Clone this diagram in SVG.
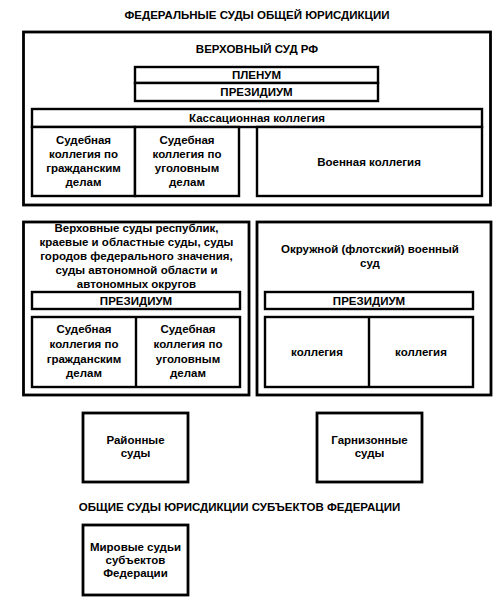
<svg xmlns="http://www.w3.org/2000/svg" width="495" height="600" viewBox="0 0 495 600">
<style>
rect{fill:#fff;stroke:#000;stroke-width:2.4}
.o{stroke-width:2.8}
line{stroke:#000;stroke-width:2.4}
text{font-family:"Liberation Sans",Arial,sans-serif;font-weight:bold;font-size:11.5px;text-anchor:middle;fill:#000}
</style>
<rect x="0" y="0" width="495" height="600" style="stroke:none"/>
<text x="257" y="19">ФЕДЕРАЛЬНЫЕ СУДЫ ОБЩЕЙ ЮРИСДИКЦИИ</text>
<g id="supreme">
<rect class="o" x="23.5" y="32" width="467" height="173"/>
<text x="257" y="53">ВЕРХОВНЫЙ СУД РФ</text>
</g>
<g id="plenum"><rect x="135" y="67" width="243" height="16"/><text x="256.5" y="79">ПЛЕНУМ</text></g>
<g id="presidium1"><rect x="135" y="83" width="243" height="18"/><text x="256.5" y="96">ПРЕЗИДИУМ</text></g>
<g id="cassation"><rect x="32" y="109" width="450" height="18"/><text x="257" y="122">Кассационная коллегия</text></g>
<g id="civil1"><rect x="32" y="127" width="103" height="69"/>
<text x="83.5" y="144">Судебная</text><text x="83.5" y="158">коллегия по</text><text x="83.5" y="172">гражданским</text><text x="83.5" y="186">делам</text></g>
<g id="criminal1"><rect x="135" y="127" width="104" height="69"/>
<text x="187" y="144">Судебная</text><text x="187" y="158">коллегия по</text><text x="187" y="172">уголовным</text><text x="187" y="186">делам</text></g>
<g id="military1"><rect x="257" y="127" width="225" height="69"/><text x="369" y="166">Военная коллегия</text></g>

<g id="regional">
<rect class="o" x="23.5" y="222" width="225.5" height="173"/>
<text x="136.5" y="232">Верховные суды республик,</text>
<text x="136.5" y="246">краевые и областные суды, суды</text>
<text x="136.5" y="260">городов федерального значения,</text>
<text x="136.5" y="274">суды автономной области и</text>
<text x="136.5" y="288">автономных округов</text>
</g>
<g id="presidium2"><rect x="32" y="292" width="208" height="17"/><text x="136" y="304.5">ПРЕЗИДИУМ</text></g>
<g id="colleges2"><rect x="32" y="317" width="208" height="70"/>
<text x="84" y="333">Судебная</text><text x="84" y="348">коллегия по</text><text x="84" y="362.5">гражданским</text><text x="84" y="377">делам</text>
<text x="188" y="333">Судебная</text><text x="188" y="348">коллегия по</text><text x="188" y="362.5">уголовным</text><text x="188" y="377">делам</text></g>

<g id="district-military">
<rect class="o" x="257" y="222" width="234" height="173"/>
<text x="370" y="253">Окружной (флотский) военный</text>
<text x="370" y="267">суд</text>
</g>
<g id="presidium3"><rect x="265" y="292" width="208" height="17"/><text x="369" y="304.5">ПРЕЗИДИУМ</text></g>
<g id="colleges3"><rect x="265" y="317" width="208" height="70"/>
<text x="317" y="356">коллегия</text><text x="421" y="356">коллегия</text></g>

<g id="connectors">
<line x1="136" y1="317" x2="136" y2="387"/>
<line x1="369" y1="317" x2="369" y2="387"/>
</g>

<g id="district"><rect class="o" x="83" y="413" width="105" height="69"/><text x="135.5" y="444">Районные</text><text x="135.5" y="457">суды</text></g>
<g id="garrison"><rect class="o" x="317" y="413" width="105" height="69"/><text x="369.5" y="444">Гарнизонные</text><text x="369.5" y="457">суды</text></g>
<text x="239.5" y="511">ОБЩИЕ СУДЫ ЮРИСДИКЦИИ СУБЪЕКТОВ ФЕДЕРАЦИИ</text>
<g id="magistrates"><rect class="o" x="83" y="525" width="105" height="70"/>
<text x="135.5" y="551">Мировые судьи</text><text x="135.5" y="564">субъектов</text><text x="135.5" y="577">Федерации</text></g>
</svg>
